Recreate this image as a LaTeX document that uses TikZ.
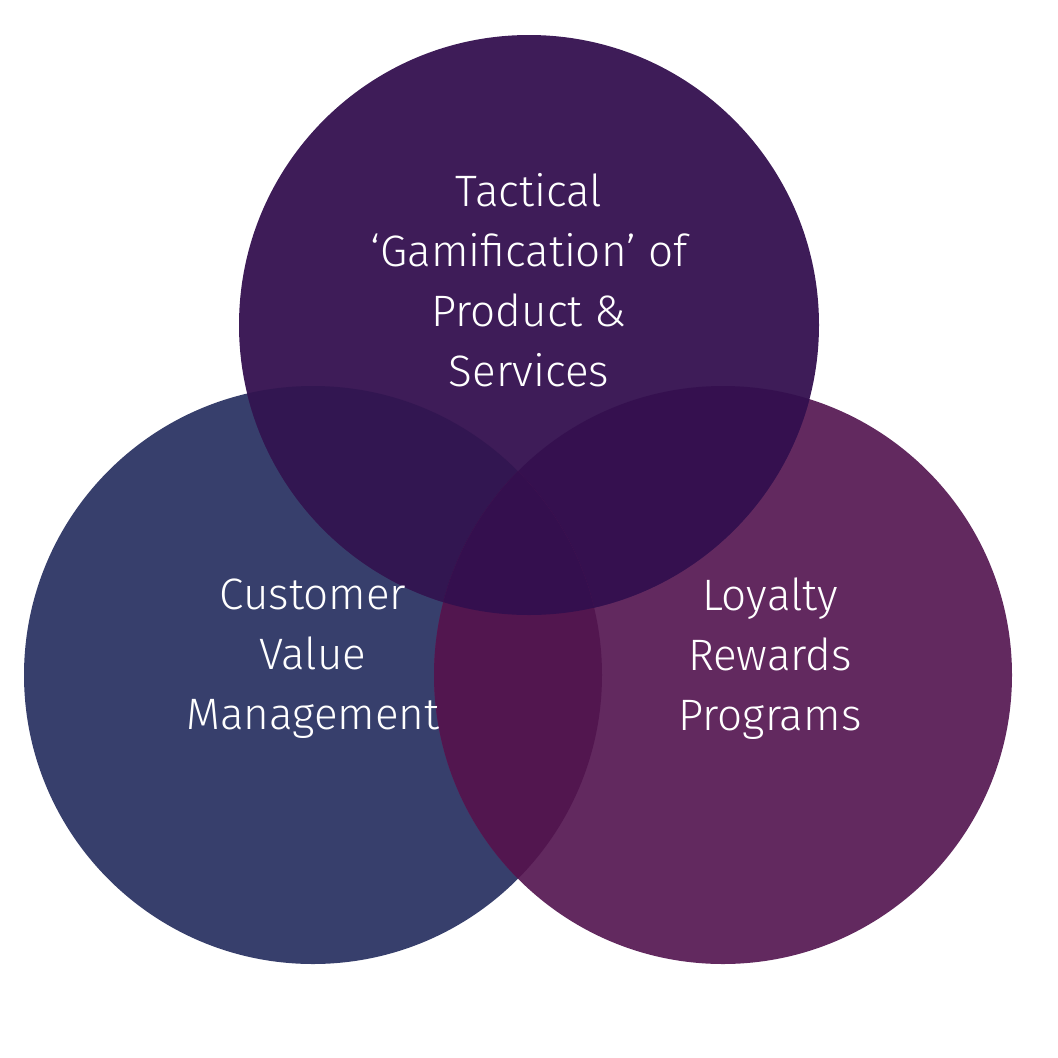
\documentclass[tikz,border=0pt]{standalone}
\usepackage{fontspec}
\setmainfont{Fira Sans Light}
\begin{document}
\begin{tikzpicture}[x=1pt,y=-1pt,
  lbl/.style={text=white,align=center,font=\fontsize{44}{60}\selectfont}]
\definecolor{cL}{HTML}{373F6C}
\definecolor{cR}{HTML}{62295F}
\definecolor{cT}{HTML}{3E1C58}
\definecolor{cTL}{HTML}{321651}
\definecolor{cTR}{HTML}{35104F}
\definecolor{cLR}{HTML}{52164F}
\definecolor{cA}{HTML}{340F4E}
\useasboundingbox (0,0) rectangle (1058,1058);
\def\T{(529,325) circle (290)}
\def\L{(313,675) circle (289)}
\def\R{(723,675) circle (289)}
\fill[cL] \L;
\fill[cR] \R;
\fill[cT] \T;
\begin{scope}\clip \T; \fill[cTL] \L; \fill[cTR] \R; \end{scope}
\begin{scope}\clip \L; \fill[cLR] \R; \end{scope}
\begin{scope}\clip \T; \clip \L; \fill[cA] \R; \end{scope}
\node[lbl] (t) at (529,280) {Tactical\\`Gamification' of\\Product \&\\Services};
\node[lbl] (l) at (313,659) {Customer\\Value\\Management};
\node[lbl] (r) at (770,659) {Loyalty\\Rewards\\Programs};
\end{tikzpicture}
\end{document}
